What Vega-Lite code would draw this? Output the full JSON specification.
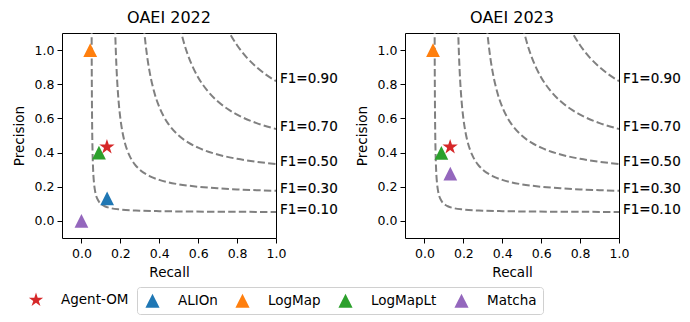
{
  "$schema": "https://vega.github.io/schema/vega-lite/v6.json",
  "background": "white",
  "padding": {"left": 11, "top": 9, "right": 0, "bottom": 0},
  "spacing": 129,
  "bounds": "flush",
  "config": {
    "font": "DejaVu Sans",
    "view": {"stroke": "#000", "strokeWidth": 1},
    "axis": {"domain": false, "grid": false, "ticks": true, "tickColor": "#000", "tickSize": 5, "tickWidth": 1,
      "labelFont": "DejaVu Sans", "labelFontSize": 12.5, "labelColor": "#000", "labelPadding": 3, "labelFlush": false, "labelOverlap": false,
      "titleFont": "DejaVu Sans", "titleFontSize": 13.5, "titleFontWeight": "normal", "titleColor": "#000"},
    "axisX": {"titlePadding": 6, "labelPadding": 4},
    "axisY": {"titlePadding": 8},
    "title": {"font": "DejaVu Sans", "fontSize": 16, "fontWeight": "normal", "color": "#000", "offset": 7},
    "legend": {"labelFont": "DejaVu Sans", "labelFontSize": 13.5, "labelColor": "#000"}
  },
  "datasets": {
    "curves": [
      {"f": "0.1", "r": 0.05217, "p": 1.2}, {"f": "0.1", "r": 0.0525, "p": 1.05}, {"f": "0.1", "r": 0.053, "p": 0.8833},
      {"f": "0.1", "r": 0.054, "p": 0.675}, {"f": "0.1", "r": 0.055, "p": 0.55}, {"f": "0.1", "r": 0.057, "p": 0.4071},
      {"f": "0.1", "r": 0.06, "p": 0.3}, {"f": "0.1", "r": 0.065, "p": 0.2167}, {"f": "0.1", "r": 0.07, "p": 0.175},
      {"f": "0.1", "r": 0.075, "p": 0.15}, {"f": "0.1", "r": 0.08, "p": 0.1333}, {"f": "0.1", "r": 0.09, "p": 0.1125},
      {"f": "0.1", "r": 0.1, "p": 0.1}, {"f": "0.1", "r": 0.11, "p": 0.0917}, {"f": "0.1", "r": 0.12, "p": 0.0857},
      {"f": "0.1", "r": 0.15, "p": 0.075}, {"f": "0.1", "r": 0.2, "p": 0.0667}, {"f": "0.1", "r": 0.3, "p": 0.06},
      {"f": "0.1", "r": 0.4, "p": 0.0571}, {"f": "0.1", "r": 0.5, "p": 0.0556}, {"f": "0.1", "r": 0.7, "p": 0.0538},
      {"f": "0.1", "r": 1.0, "p": 0.0526},
      {"f": "0.3", "r": 0.1714, "p": 1.2}, {"f": "0.3", "r": 0.175, "p": 1.05}, {"f": "0.3", "r": 0.18, "p": 0.9},
      {"f": "0.3", "r": 0.185, "p": 0.7929}, {"f": "0.3", "r": 0.19, "p": 0.7125}, {"f": "0.3", "r": 0.2, "p": 0.6},
      {"f": "0.3", "r": 0.21, "p": 0.525}, {"f": "0.3", "r": 0.22, "p": 0.4714}, {"f": "0.3", "r": 0.235, "p": 0.4147},
      {"f": "0.3", "r": 0.25, "p": 0.375}, {"f": "0.3", "r": 0.275, "p": 0.33}, {"f": "0.3", "r": 0.3, "p": 0.3},
      {"f": "0.3", "r": 0.35, "p": 0.2625}, {"f": "0.3", "r": 0.4, "p": 0.24}, {"f": "0.3", "r": 0.5, "p": 0.2143},
      {"f": "0.3", "r": 0.6, "p": 0.2}, {"f": "0.3", "r": 0.7, "p": 0.1909}, {"f": "0.3", "r": 0.8, "p": 0.1846},
      {"f": "0.3", "r": 0.9, "p": 0.18}, {"f": "0.3", "r": 1.0, "p": 0.1765},
      {"f": "0.5", "r": 0.3158, "p": 1.2}, {"f": "0.5", "r": 0.32, "p": 1.1429}, {"f": "0.5", "r": 0.33, "p": 1.0313},
      {"f": "0.5", "r": 0.34, "p": 0.9444}, {"f": "0.5", "r": 0.35, "p": 0.875}, {"f": "0.5", "r": 0.375, "p": 0.75},
      {"f": "0.5", "r": 0.4, "p": 0.6667}, {"f": "0.5", "r": 0.425, "p": 0.6071}, {"f": "0.5", "r": 0.45, "p": 0.5625},
      {"f": "0.5", "r": 0.5, "p": 0.5}, {"f": "0.5", "r": 0.55, "p": 0.4583}, {"f": "0.5", "r": 0.6, "p": 0.4286},
      {"f": "0.5", "r": 0.7, "p": 0.3889}, {"f": "0.5", "r": 0.8, "p": 0.3636}, {"f": "0.5", "r": 0.9, "p": 0.3462},
      {"f": "0.5", "r": 1.0, "p": 0.3333},
      {"f": "0.7", "r": 0.4941, "p": 1.2}, {"f": "0.7", "r": 0.5, "p": 1.1667}, {"f": "0.7", "r": 0.525, "p": 1.05},
      {"f": "0.7", "r": 0.55, "p": 0.9625}, {"f": "0.7", "r": 0.575, "p": 0.8944}, {"f": "0.7", "r": 0.6, "p": 0.84},
      {"f": "0.7", "r": 0.65, "p": 0.7583}, {"f": "0.7", "r": 0.7, "p": 0.7}, {"f": "0.7", "r": 0.75, "p": 0.6563},
      {"f": "0.7", "r": 0.8, "p": 0.6222}, {"f": "0.7", "r": 0.9, "p": 0.5727}, {"f": "0.7", "r": 1.0, "p": 0.5385},
      {"f": "0.9", "r": 0.72, "p": 1.2}, {"f": "0.9", "r": 0.75, "p": 1.125}, {"f": "0.9", "r": 0.8, "p": 1.0286},
      {"f": "0.9", "r": 0.85, "p": 0.9563}, {"f": "0.9", "r": 0.9, "p": 0.9}, {"f": "0.9", "r": 0.95, "p": 0.855},
      {"f": "0.9", "r": 1.0, "p": 0.8182}
    ],
    "labels": [
      {"label": "F1=0.90", "r": 1.0, "p": 0.83},
      {"label": "F1=0.70", "r": 1.0, "p": 0.548},
      {"label": "F1=0.50", "r": 1.0, "p": 0.343},
      {"label": "F1=0.30", "r": 1.0, "p": 0.186},
      {"label": "F1=0.10", "r": 1.0, "p": 0.063}
    ],
    "points": [
      {"year": 2022, "method": "Agent-OM", "r": 0.131, "p": 0.433},
      {"year": 2022, "method": "ALIOn", "r": 0.132, "p": 0.132},
      {"year": 2022, "method": "LogMap", "r": 0.045, "p": 1.0},
      {"year": 2022, "method": "LogMapLt", "r": 0.09, "p": 0.4},
      {"year": 2022, "method": "Matcha", "r": 0.0, "p": 0.0},
      {"year": 2023, "method": "Agent-OM", "r": 0.132, "p": 0.433},
      {"year": 2023, "method": "LogMap", "r": 0.044, "p": 1.0},
      {"year": 2023, "method": "LogMapLt", "r": 0.087, "p": 0.398},
      {"year": 2023, "method": "Matcha", "r": 0.133, "p": 0.277}
    ]
  },
  "hconcat": [
    {
      "width": 214, "height": 205,
      "title": {"text": "OAEI 2022"},
      "layer": [
        {
          "data": {"name": "curves"},
          "mark": {"type": "line", "clip": true, "color": "#808080", "strokeWidth": 2, "strokeDash": [7.4, 3.2], "interpolate": "monotone"},
          "encoding": {
            "x": {"field": "r", "type": "quantitative", "scale": {"domain": [-0.1, 1.0], "nice": false, "zero": false}, "axis": {"values": [0, 0.2, 0.4, 0.6, 0.8, 1.0], "format": ".1f", "title": "Recall"}},
            "y": {"field": "p", "type": "quantitative", "scale": {"domain": [-0.1, 1.1], "nice": false, "zero": false}, "axis": {"values": [0, 0.2, 0.4, 0.6, 0.8, 1.0], "format": ".1f", "title": "Precision"}},
            "detail": {"field": "f", "type": "nominal"}
          }
        },
        {
          "data": {"name": "labels"},
          "mark": {"type": "text", "align": "left", "baseline": "middle", "dx": 4, "fontSize": 13.5, "font": "DejaVu Sans", "color": "#000", "stroke": "#000", "strokeWidth": 0.15},
          "encoding": {
            "x": {"field": "r", "type": "quantitative", "title": "Recall"},
            "y": {"field": "p", "type": "quantitative", "title": "Precision"},
            "text": {"field": "label"}
          }
        },
        {
          "data": {"name": "points"},
          "transform": [{"filter": "datum.year == 2022 && datum.method != 'Agent-OM'"}],
          "mark": {"type": "point", "filled": true, "opacity": 1, "shape": "M0,-1L1,1L-1,1Z", "size": 190},
          "encoding": {
            "x": {"field": "r", "type": "quantitative", "title": "Recall"},
            "y": {"field": "p", "type": "quantitative", "title": "Precision"},
            "color": {"field": "method", "type": "nominal",
              "scale": {"domain": ["ALIOn", "LogMap", "LogMapLt", "Matcha"], "range": ["#1f77b4", "#ff7f0e", "#2ca02c", "#9467bd"]},
              "legend": {"orient": "none", "legendX": 75, "legendY": 254, "direction": "horizontal", "title": null,
                "symbolType": "M0,-1L1,1L-1,1Z", "symbolSize": 200, "symbolStrokeWidth": 0, "labelOffset": 18, "columnPadding": 15,
                "padding": 6, "symbolOffset": 2, "strokeColor": "#d0d0d0", "fillColor": "#fff", "cornerRadius": 3}}
          }
        },
        {
          "data": {"name": "points"},
          "transform": [{"filter": "datum.year == 2022 && datum.method == 'Agent-OM'"}],
          "mark": {"type": "point", "filled": true, "opacity": 1, "shape": "M0,-1L0.2245,-0.309L0.9511,-0.309L0.3633,0.118L0.5878,0.809L0,0.382L-0.5878,0.809L-0.3633,0.118L-0.9511,-0.309L-0.2245,-0.309Z", "size": 260},
          "encoding": {
            "x": {"field": "r", "type": "quantitative", "title": "Recall"},
            "y": {"field": "p", "type": "quantitative", "title": "Precision"},
            "fill": {"field": "method", "type": "nominal",
              "scale": {"domain": ["Agent-OM"], "range": ["#d62728"]},
              "legend": {"orient": "none", "legendX": -34, "legendY": 259, "title": null,
                "symbolType": "M0,-1L0.2245,-0.309L0.9511,-0.309L0.3633,0.118L0.5878,0.809L0,0.382L-0.5878,0.809L-0.3633,0.118L-0.9511,-0.309L-0.2245,-0.309Z",
                "symbolSize": 226, "symbolStrokeWidth": 0, "labelOffset": 17, "padding": 0}}
          }
        }
      ]
    },
    {
      "width": 214, "height": 205,
      "title": {"text": "OAEI 2023"},
      "layer": [
        {
          "data": {"name": "curves"},
          "mark": {"type": "line", "clip": true, "color": "#808080", "strokeWidth": 2, "strokeDash": [7.4, 3.2], "interpolate": "monotone"},
          "encoding": {
            "x": {"field": "r", "type": "quantitative", "scale": {"domain": [-0.1, 1.0], "nice": false, "zero": false}, "axis": {"values": [0, 0.2, 0.4, 0.6, 0.8, 1.0], "format": ".1f", "title": "Recall"}},
            "y": {"field": "p", "type": "quantitative", "scale": {"domain": [-0.1, 1.1], "nice": false, "zero": false}, "axis": {"values": [0, 0.2, 0.4, 0.6, 0.8, 1.0], "format": ".1f", "title": "Precision"}},
            "detail": {"field": "f", "type": "nominal"}
          }
        },
        {
          "data": {"name": "labels"},
          "mark": {"type": "text", "align": "left", "baseline": "middle", "dx": 4, "fontSize": 13.5, "font": "DejaVu Sans", "color": "#000", "stroke": "#000", "strokeWidth": 0.15},
          "encoding": {
            "x": {"field": "r", "type": "quantitative", "title": "Recall"},
            "y": {"field": "p", "type": "quantitative", "title": "Precision"},
            "text": {"field": "label"}
          }
        },
        {
          "data": {"name": "points"},
          "transform": [{"filter": "datum.year == 2023 && datum.method != 'Agent-OM'"}],
          "mark": {"type": "point", "filled": true, "opacity": 1, "shape": "M0,-1L1,1L-1,1Z", "size": 190},
          "encoding": {
            "x": {"field": "r", "type": "quantitative", "title": "Recall"},
            "y": {"field": "p", "type": "quantitative", "title": "Precision"},
            "color": {"field": "method", "type": "nominal",
              "scale": {"domain": ["ALIOn", "LogMap", "LogMapLt", "Matcha"], "range": ["#1f77b4", "#ff7f0e", "#2ca02c", "#9467bd"]},
              "legend": {"orient": "none", "legendX": 75, "legendY": 254, "direction": "horizontal", "title": null,
                "symbolType": "M0,-1L1,1L-1,1Z", "symbolSize": 200, "symbolStrokeWidth": 0, "labelOffset": 18, "columnPadding": 15,
                "padding": 6, "symbolOffset": 2, "strokeColor": "#d0d0d0", "fillColor": "#fff", "cornerRadius": 3}}
          }
        },
        {
          "data": {"name": "points"},
          "transform": [{"filter": "datum.year == 2023 && datum.method == 'Agent-OM'"}],
          "mark": {"type": "point", "filled": true, "opacity": 1, "shape": "M0,-1L0.2245,-0.309L0.9511,-0.309L0.3633,0.118L0.5878,0.809L0,0.382L-0.5878,0.809L-0.3633,0.118L-0.9511,-0.309L-0.2245,-0.309Z", "size": 260},
          "encoding": {
            "x": {"field": "r", "type": "quantitative", "title": "Recall"},
            "y": {"field": "p", "type": "quantitative", "title": "Precision"},
            "fill": {"field": "method", "type": "nominal",
              "scale": {"domain": ["Agent-OM"], "range": ["#d62728"]},
              "legend": {"orient": "none", "legendX": -34, "legendY": 259, "title": null,
                "symbolType": "M0,-1L0.2245,-0.309L0.9511,-0.309L0.3633,0.118L0.5878,0.809L0,0.382L-0.5878,0.809L-0.3633,0.118L-0.9511,-0.309L-0.2245,-0.309Z",
                "symbolSize": 226, "symbolStrokeWidth": 0, "labelOffset": 17, "padding": 0}}
          }
        }
      ]
    }
  ]
}
